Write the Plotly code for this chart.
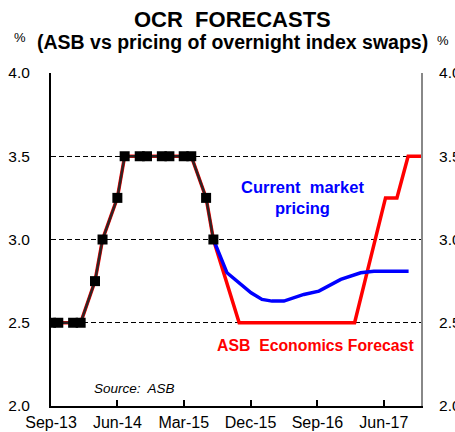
import plotly.graph_objects as go

# ---- data ----
hist_dates = ['2013-09-01', '2013-10-01', '2013-12-01', '2014-01-01', '2014-03-01', '2014-04-01',
              '2014-06-01', '2014-07-01', '2014-09-01', '2014-10-01', '2014-12-01', '2015-01-01',
              '2015-03-01', '2015-04-01', '2015-06-01', '2015-07-01']
hist_ocr = [2.5, 2.5, 2.5, 2.5, 2.75, 3.0, 3.25, 3.5, 3.5, 3.5, 3.5, 3.5, 3.5, 3.5, 3.25, 3.0]

asb_dates = ['2015-07-01', '2015-10-15', '2017-02-01', '2017-06-08', '2017-07-25', '2017-09-09', '2017-11-15']
asb_ocr = [3.0, 2.5, 2.5, 3.25, 3.25, 3.5, 3.5]

mkt_dates = ['2015-07-01', '2015-08-26', '2015-12-03', '2016-01-17', '2016-02-27', '2016-04-16',
             '2016-07-07', '2016-09-07', '2016-12-06', '2017-02-26', '2017-04-21', '2017-09-11']
mkt_ocr = [3.0, 2.80, 2.68, 2.64, 2.63, 2.63, 2.67, 2.69, 2.76, 2.80, 2.81, 2.81]

x_range = ['2013-09-01', '2017-11-01']
y_range = [2.0, 4.0]

FONT = 'Liberation Sans, Arial, sans-serif'

fig = go.Figure()

# red ASB line underneath history (whole path)
fig.add_trace(go.Scatter(x=hist_dates + asb_dates[1:], y=hist_ocr + asb_ocr[1:], mode='lines',
                         line=dict(color='#ff0000', width=3.5), hoverinfo='skip', showlegend=False))
fig.add_trace(go.Scatter(x=mkt_dates, y=mkt_ocr, mode='lines',
                         line=dict(color='#0000ff', width=3.5), hoverinfo='skip', showlegend=False))
fig.add_trace(go.Scatter(x=hist_dates, y=hist_ocr, mode='lines+markers',
                         line=dict(color='#2e2424', width=2.5),
                         marker=dict(symbol='square', size=10, color='#000000'),
                         hoverinfo='skip', showlegend=False))
# dummy trace to carry the right axis
fig.add_trace(go.Scatter(x=hist_dates, y=hist_ocr, yaxis='y2', mode='lines', opacity=0,
                         line=dict(width=0), hoverinfo='skip', showlegend=False))

fig.update_layout(
    width=455, height=432,
    margin=dict(l=51, r=34, t=73, b=26),
    paper_bgcolor='white', plot_bgcolor='white',
    font=dict(family=FONT, size=15, color='black'),
    showlegend=False,
    xaxis=dict(type='date', range=x_range, tick0='2013-09-01', dtick='M9', tickformat='%b-%y',
               ticks='inside', ticklen=6, tickwidth=1.5, tickcolor='black', automargin=False,
               showline=True, linecolor='black', linewidth=2, showgrid=False, zeroline=False,
               tickfont=dict(size=16), ticklabelstandoff=1),
    yaxis=dict(range=y_range, dtick=0.5, tickformat='.1f', showgrid=True, gridcolor='black',
               gridwidth=1.2, griddash='5px,3px', showline=True, linecolor='black', linewidth=2,
               ticks='', zeroline=False, tickfont=dict(size=15.5), ticklabelstandoff=16, automargin=False),
    yaxis2=dict(range=y_range, dtick=0.5, tickformat='.1f', overlaying='y', side='right',
                showgrid=False, showline=True, linecolor='#888888', linewidth=2, ticks='',
                zeroline=False, tickfont=dict(size=15.5), ticklabelstandoff=13, automargin=False),
)

ann = [
    dict(text='<b>OCR  FORECASTS</b>', x=0.4905, y=1.160, font=dict(size=22)),
    dict(text='<b>(ASB vs pricing of overnight index swaps)</b>', x=0.4905, y=1.092, font=dict(size=19.5)),
    dict(text='%', x=-0.084, y=1.108, font=dict(size=13)),
    dict(text='%', x=1.059, y=1.098, font=dict(size=13)),
    dict(text='<b>Current  market<br>pricing</b>', x=0.681, y=0.625, font=dict(size=16.5, color='#0000ff')),
    dict(text='<b>ASB  Economics Forecast</b>', x=0.716, y=0.183, font=dict(size=15.8, color='#ff0000')),
    dict(text='<i>Source:  ASB</i>', x=0.227, y=0.054, font=dict(size=13.5)),
]
for a in ann:
    fig.add_annotation(xref='paper', yref='paper', xanchor='center', yanchor='middle',
                       showarrow=False, **a)

fig.write_html('out.html')
